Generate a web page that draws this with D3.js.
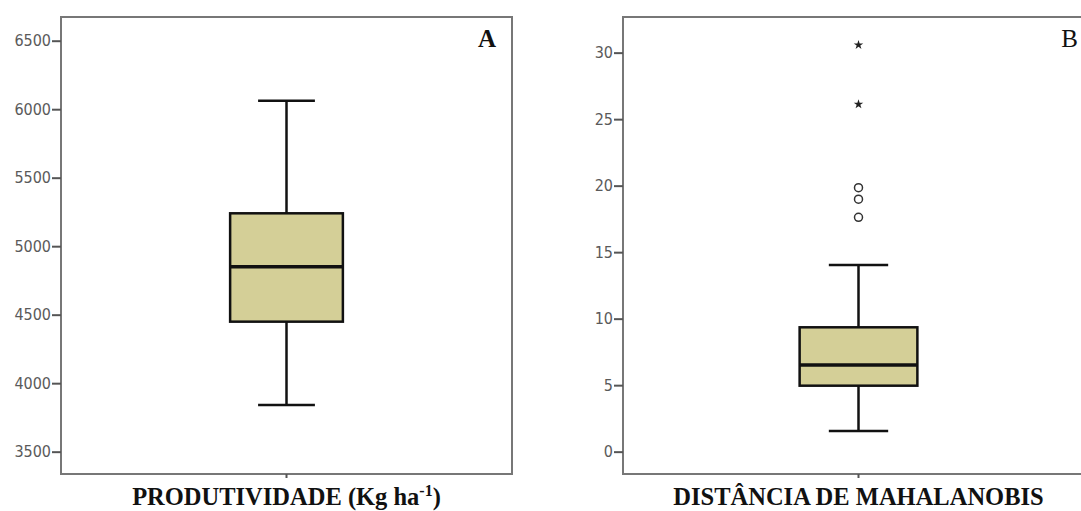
<!DOCTYPE html>
<html>
<head>
<meta charset="utf-8">
<script src="https://cdn.jsdelivr.net/npm/d3@7"></script>
<style>
  body { margin: 0; background: #fff; }
  svg { display: block; }
  .tick text { font-family: "DejaVu Sans Condensed", "DejaVu Sans", sans-serif; font-size: 16px; fill: #5a5a5a; }
  .tick line { stroke: #555; stroke-width: 2; }
  .domain { display: none; }
  .xlabel { font-family: "Liberation Serif", serif; font-weight: bold; font-size: 24.5px; fill: #111; }
</style>
</head>
<body>
<svg id="drawing_region"></svg>
<script>
// panel A: produtividade
const ticksA = [3500, 4000, 4500, 5000, 5500, 6000, 6500];
const statsA = [3841, 4449, 4850, 5240, 6062]; // min, q1, median, q3, max
const outliersA = [];
const extremesA = [];

// panel B: distancia de Mahalanobis
const ticksB = [0, 5, 10, 15, 20, 25, 30];
const statsB = [1.56, 4.96, 6.52, 9.35, 14.04];
const outliersB = [19.85, 18.98, 17.62];
const extremesB = [30.58, 26.12];

const svg = d3.select('#drawing_region')
    .attr('width', 1081)
    .attr('height', 511);

function drawPanel( cfg ) {
    const g = svg.append('g')
        .attr('transform', `translate(${cfg.left}, ${cfg.top})`);

    const w = cfg.width, h = cfg.height;

    const yscale = d3.scaleLinear().domain( cfg.domain ).range( [h, 0] );
    const xscale = d3.scaleBand().domain( [cfg.name] ).range( [0, w] );
    const cx = xscale( cfg.name ) + xscale.bandwidth() / 2;
    const boxW = w * 0.25, capW = w * 0.126;

    // frame
    g.append('rect')
        .attr('x', 0).attr('y', 0)
        .attr('width', w).attr('height', h)
        .attr('fill', 'none')
        .attr('stroke', '#777')
        .attr('stroke-width', 2);

    const yaxis = d3.axisLeft( yscale )
        .tickValues( cfg.ticks )
        .tickSize(9)
        .tickPadding(1)
        .tickFormat(d3.format('d'));
    g.append('g').call( yaxis );

    // x tick
    g.append('line')
        .attr('x1', cx).attr('x2', cx)
        .attr('y1', h).attr('y2', h + 4)
        .attr('stroke', '#555').attr('stroke-width', 2);

    const s = cfg.stats;
    const line = (x1, y1, x2, y2) => g.append('line')
        .attr('x1', x1).attr('y1', y1).attr('x2', x2).attr('y2', y2)
        .attr('stroke', '#111').attr('stroke-width', 2.5);

    // whiskers
    line(cx, yscale(s[0]), cx, yscale(s[1]));
    line(cx, yscale(s[3]), cx, yscale(s[4]));
    line(cx - capW / 2, yscale(s[0]), cx + capW / 2, yscale(s[0]));
    line(cx - capW / 2, yscale(s[4]), cx + capW / 2, yscale(s[4]));

    // box
    g.append('rect')
        .attr('x', cx - boxW / 2)
        .attr('y', yscale(s[3]))
        .attr('width', boxW)
        .attr('height', yscale(s[1]) - yscale(s[3]))
        .attr('fill', '#d4cf97')
        .attr('stroke', '#111')
        .attr('stroke-width', 2.5);
    line(cx - boxW / 2, yscale(s[2]), cx + boxW / 2, yscale(s[2])).attr('stroke-width', 3.5);

    // outliers
    g.selectAll('circle.out')
        .data(cfg.outliers)
        .enter()
        .append('circle')
        .attr('class', 'out')
        .attr('cx', cx)
        .attr('cy', d => yscale(d))
        .attr('r', 4)
        .attr('fill', 'none')
        .attr('stroke', '#333')
        .attr('stroke-width', 1.5);

    g.selectAll('path.ext')
        .data(cfg.extremes)
        .enter()
        .append('path')
        .attr('class', 'ext')
        .attr('d', d3.symbol().type(d3.symbolStar).size(28))
        .attr('transform', d => `translate(${cx}, ${yscale(d)})`)
        .attr('fill', '#222');

    // panel letter
    g.append('text')
        .attr('x', w - cfg.letterInset)
        .attr('y', 30)
        .attr('text-anchor', 'end')
        .style('font-family', '"Liberation Serif", serif')
        .style('font-weight', cfg.letterBold ? 'bold' : 'normal')
        .style('font-size', '25px')
        .attr('fill', '#111')
        .text(cfg.letter);

    // x label
    const lab = g.append('text')
        .attr('class', 'xlabel')
        .attr('x', cx)
        .attr('y', h + 31)
        .attr('text-anchor', 'middle');
    lab.append('tspan').text(cfg.label);
    if (cfg.sup) {
        lab.append('tspan').attr('dy', -9).style('font-size', '16px').text(cfg.sup);
        lab.append('tspan').attr('dy', 9).text(cfg.labelEnd);
    }
}

drawPanel({
    name: 'A', letter: 'A', letterBold: true, letterInset: 16,
    left: 61, top: 17, width: 451, height: 457,
    domain: [3337, 6673], ticks: ticksA,
    stats: statsA, outliers: outliersA, extremes: extremesA,
    label: 'PRODUTIVIDADE (Kg ha', sup: '-1', labelEnd: ')'
});

drawPanel({
    name: 'B', letter: 'B', letterBold: false, letterInset: 16,
    left: 623, top: 17, width: 471, height: 457,
    domain: [-1.68, 32.68], ticks: ticksB,
    stats: statsB, outliers: outliersB, extremes: extremesB,
    label: 'DISTÂNCIA DE MAHALANOBIS'
});
</script>
</body>
</html>
